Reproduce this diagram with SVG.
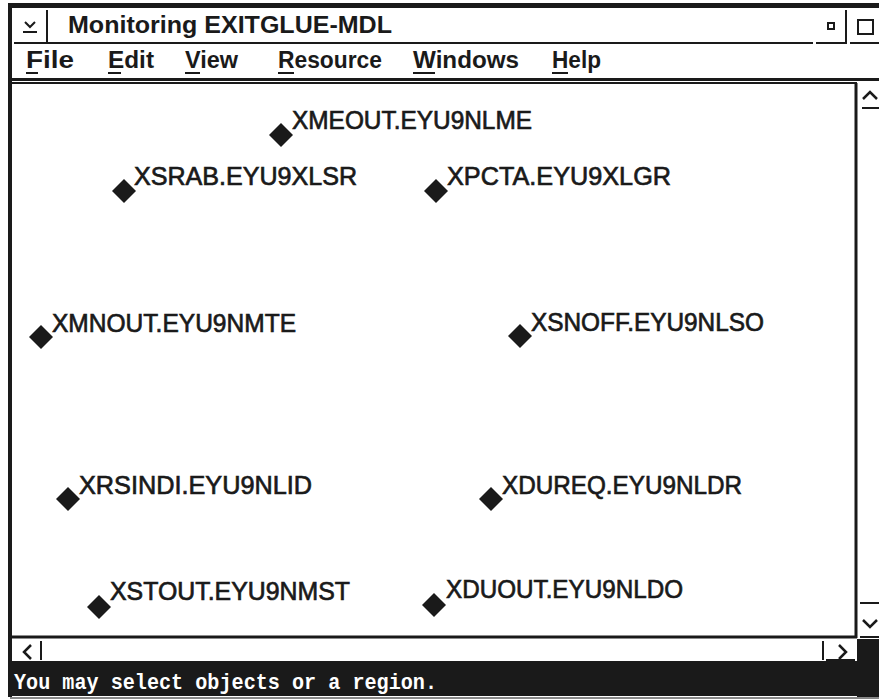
<svg xmlns="http://www.w3.org/2000/svg" width="879" height="700" viewBox="0 0 879 700">
<style>
.ui{font-family:"Liberation Sans",Arial,sans-serif;font-weight:bold;fill:#1a1a1a}
.lbl{font-family:"Liberation Sans",Arial,sans-serif;font-weight:normal;font-size:26px;fill:#1a1a1a;stroke:#1a1a1a;stroke-width:0.7}
.dia{fill:#1a1a1a}
.ln{stroke:#1a1a1a;fill:none}
.st{font-family:"Liberation Mono","Courier New",monospace;font-weight:bold;font-size:22px;fill:#ffffff}
</style>
<defs>
<polygon id="d" class="dia" points="0,-12 12,0 0,12 -12,0"/>
</defs>
<rect x="0" y="0" width="879" height="700" fill="#ffffff"/>
<!-- window frame -->
<g id="frame">
<rect x="8" y="3" width="871" height="5" fill="#1a1a1a"/>
<rect x="8" y="3" width="4" height="694" fill="#1a1a1a"/>
<!-- title bar -->
<path class="ln" stroke-width="2" d="M25,22 L30,27 L35,22"/>
<line class="ln" stroke-width="2" x1="23" y1="32" x2="37" y2="32"/>
<line class="ln" stroke-width="2" x1="47" y1="10" x2="47" y2="42"/>
<text class="ui" x="68" y="33" font-size="23" textLength="324" lengthAdjust="spacingAndGlyphs">Monitoring EXITGLUE-MDL</text>
<line class="ln" stroke-width="2" x1="14" y1="43" x2="813" y2="43"/>
<path class="ln" stroke-width="2" d="M816,43 L846,43 L846,10"/>
<line class="ln" stroke-width="2" x1="850" y1="43" x2="879" y2="43"/>
<rect x="828" y="23" width="6" height="6" class="ln" stroke-width="2"/>
<rect x="858" y="20" width="15" height="14" class="ln" stroke-width="2"/>
<!-- menu -->
<text class="ui" x="26" y="68" font-size="23" textLength="48" lengthAdjust="spacingAndGlyphs">File</text>
<text class="ui" x="108" y="68" font-size="23" textLength="46" lengthAdjust="spacingAndGlyphs">Edit</text>
<text class="ui" x="185" y="68" font-size="23" textLength="53" lengthAdjust="spacingAndGlyphs">View</text>
<text class="ui" x="278" y="68" font-size="23" textLength="104" lengthAdjust="spacingAndGlyphs">Resource</text>
<text class="ui" x="413" y="68" font-size="23" textLength="106" lengthAdjust="spacingAndGlyphs">Windows</text>
<text class="ui" x="552" y="68" font-size="23" textLength="49" lengthAdjust="spacingAndGlyphs">Help</text>
<g class="ln" stroke-width="2">
<line x1="26" y1="73" x2="38" y2="73"/>
<line x1="108" y1="73" x2="121" y2="73"/>
<line x1="185" y1="73" x2="200" y2="73"/>
<line x1="278" y1="73" x2="294" y2="73"/>
<line x1="413" y1="73" x2="435" y2="73"/>
<line x1="552" y1="73" x2="568" y2="73"/>
</g>
<rect x="12" y="78" width="867" height="3" fill="#1a1a1a"/>
<!-- canvas border -->
<line class="ln" stroke-width="2" x1="12" y1="83" x2="857" y2="83"/>
<line class="ln" stroke-width="3" x1="856" y1="83" x2="856" y2="638"/>
<line class="ln" stroke-width="3" x1="12" y1="637" x2="857" y2="637"/>
<!-- vertical scrollbar -->
<path class="ln" stroke-width="2.5" d="M863,99 L870,92 L877,99"/>
<line class="ln" stroke-width="2" x1="862" y1="108" x2="879" y2="108"/>
<line class="ln" stroke-width="2" x1="860" y1="603" x2="879" y2="603"/>
<path class="ln" stroke-width="2.5" d="M863,620 L870,627 L877,620"/>
<line class="ln" stroke-width="2" x1="860" y1="637" x2="879" y2="637"/>
<!-- horizontal scrollbar -->
<path class="ln" stroke-width="2.5" d="M31,645 L24,652 L31,659"/>
<line class="ln" stroke-width="2" x1="41" y1="641" x2="41" y2="660"/>
<line class="ln" stroke-width="2" x1="823" y1="641" x2="823" y2="660"/>
<path class="ln" stroke-width="2.5" d="M839,645 L846,652 L839,659"/>
<line class="ln" stroke-width="2" x1="826" y1="660" x2="855" y2="660"/>
<rect x="857" y="639" width="22" height="58" fill="#1a1a1a"/>
<!-- status bar -->
<rect x="8" y="661" width="871" height="35" fill="#1a1a1a"/>
<text class="st" x="14" y="689" textLength="423" lengthAdjust="spacingAndGlyphs">You may select objects or a region.</text>
<line stroke="#888888" stroke-width="2" x1="10" y1="698" x2="879" y2="698"/>
</g>
<g id="connectors"></g>
<g id="n1"><use href="#d" x="281" y="135"/><text class="lbl" x="292" y="129" textLength="240" lengthAdjust="spacingAndGlyphs">XMEOUT.EYU9NLME</text></g>
<g id="n2"><use href="#d" x="124" y="191"/><text class="lbl" x="134" y="185" textLength="223" lengthAdjust="spacingAndGlyphs">XSRAB.EYU9XLSR</text></g>
<g id="n3"><use href="#d" x="436" y="191"/><text class="lbl" x="447" y="185" textLength="224" lengthAdjust="spacingAndGlyphs">XPCTA.EYU9XLGR</text></g>
<g id="n4"><use href="#d" x="41" y="337"/><text class="lbl" x="52" y="332" textLength="244" lengthAdjust="spacingAndGlyphs">XMNOUT.EYU9NMTE</text></g>
<g id="n5"><use href="#d" x="520" y="336"/><text class="lbl" x="531" y="331" textLength="233" lengthAdjust="spacingAndGlyphs">XSNOFF.EYU9NLSO</text></g>
<g id="n6"><use href="#d" x="68" y="499"/><text class="lbl" x="79" y="494" textLength="233" lengthAdjust="spacingAndGlyphs">XRSINDI.EYU9NLID</text></g>
<g id="n7"><use href="#d" x="491" y="499"/><text class="lbl" x="502" y="494" textLength="240" lengthAdjust="spacingAndGlyphs">XDUREQ.EYU9NLDR</text></g>
<g id="n8"><use href="#d" x="99" y="607"/><text class="lbl" x="110" y="600" textLength="240" lengthAdjust="spacingAndGlyphs">XSTOUT.EYU9NMST</text></g>
<g id="n9"><use href="#d" x="434" y="605"/><text class="lbl" x="446" y="598" textLength="237" lengthAdjust="spacingAndGlyphs">XDUOUT.EYU9NLDO</text></g>
</svg>
